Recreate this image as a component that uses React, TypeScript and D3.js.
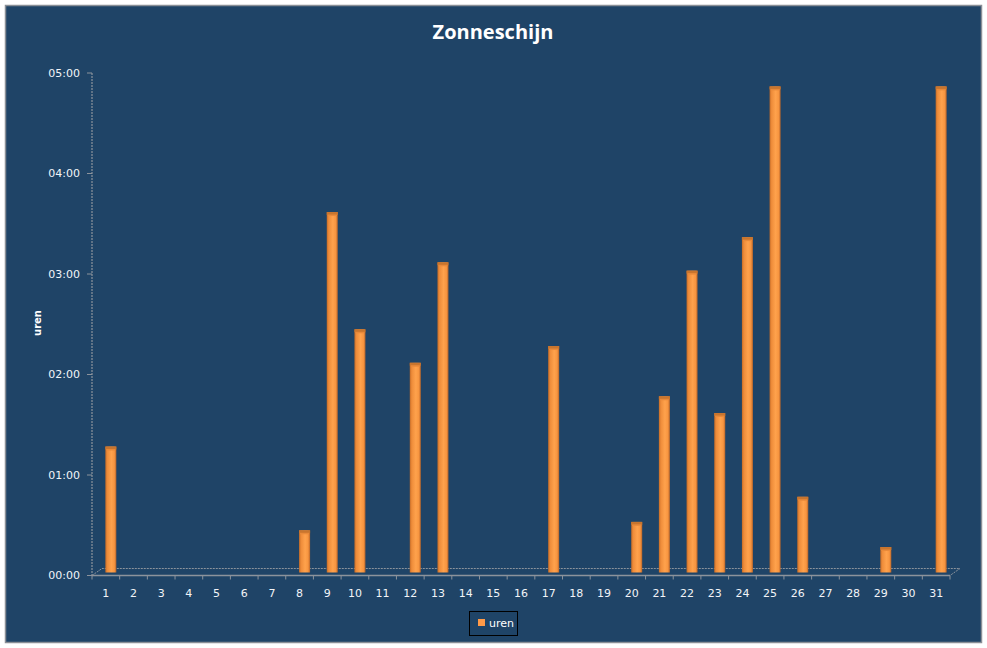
import React from 'react';
import * as d3 from 'd3';

// sunshine per day, in minutes
const days = d3.range(1, 32).map(String);
const minutes = [
  77, 0, 0, 0, 0, 0, 0, 27, 217, 147, 0, 127, 187, 0, 0, 0,
  137, 0, 0, 32, 107, 182, 97, 202, 292, 47, 0, 0, 17, 0, 292,
];
const yTicks = [0, 60, 120, 180, 240, 300];
const title = 'Zonneschijn';
const seriesName = 'uren';

const W = 987;
const H = 648;
const margin = { top: 73, right: 37, bottom: 72, left: 92 };
const depth = { dx: 10, dy: -7 };
const font = '"DejaVu Sans", Verdana, sans-serif';

function fmt(m: number) {
  const h = Math.floor(m / 60);
  const mm = m % 60;
  return `${String(h).padStart(2, '0')}:${String(mm).padStart(2, '0')}`;
}

export default function App() {
  const x = d3.scaleBand<string>()
    .domain(days)
    .range([margin.left, 950]);

  const y = d3.scaleLinear()
    .domain([0, 300])
    .range([575.5, margin.top]);

  const bw = 11;
  const base = y(0);
  const x0 = margin.left;
  const x1 = x.range()[1];

  return (
    <div style={{ position: 'absolute', left: 0, top: 0 }}>
      <svg width={W} height={H} style={{ display: 'block' }}>
        <defs>
          <linearGradient id="barFill" x1="0" x2="1" y1="0" y2="0">
            <stop offset="0%" stopColor="#c46c28" />
            <stop offset="18%" stopColor="#ee8c3a" />
            <stop offset="55%" stopColor="#ffa24c" />
            <stop offset="82%" stopColor="#f79540" />
            <stop offset="100%" stopColor="#b8652a" />
          </linearGradient>
        </defs>
        <rect x={0} y={0} width={W} height={H} fill="#ffffff" />
        <rect x={5.5} y={5.5} width={976} height={637} fill="#1f4467" stroke="#8a8f96" strokeWidth={1.5} />

        <text x={493} y={39} textAnchor="middle" fill="#ffffff" fontFamily='"Open Sans", sans-serif' fontWeight="bold" fontSize={20}>
          {title}
        </text>

        {/* floor */}
        <path
          d={`M${x0},${base} L${x0 + depth.dx},${base + depth.dy} L${x1 + depth.dx},${base + depth.dy} L${x1},${base}`}
          fill="none" stroke="#8c939c" strokeWidth={1} strokeDasharray="2,1"
        />

        {/* y axis */}
        <line x1={x0} x2={x0} y1={y(300)} y2={base} stroke="#8c939c" strokeWidth={1.2} strokeDasharray="2,1" />
        {yTicks.map(t => (
          <g key={t}>
            <line x1={x0 - 5} x2={x0} y1={y(t)} y2={y(t)} stroke="#8c939c" />
            <text x={80} y={y(t)} dy="0.35em" textAnchor="end" fill="#f2f4f8" fontFamily={font} fontSize={11}>
              {fmt(t)}
            </text>
          </g>
        ))}
        <text transform={`translate(41,${323}) rotate(-90)`} textAnchor="middle" fill="#ffffff" fontFamily={font} fontWeight="bold" fontSize={10}>
          {seriesName}
        </text>

        {/* x axis */}
        <line x1={x0} x2={x1} y1={base} y2={base} stroke="#8c939c" strokeWidth={1.5} />
        {days.map(d => (
          <g key={d}>
            <line x1={x(d)! + x.bandwidth()} x2={x(d)! + x.bandwidth()} y1={base} y2={base + 4} stroke="#8c939c" />
            <text x={x(d)! + x.bandwidth() / 2} y={597} textAnchor="middle" fill="#f2f4f8" fontFamily={font} fontSize={11}>
              {d}
            </text>
          </g>
        ))}
        <line x1={x0} x2={x0} y1={base} y2={base + 4} stroke="#8c939c" />

        {/* bars */}
        {days.map((d, i) => {
          const v = minutes[i];
          if (!v) return null;
          const cx = x(d)! + x.bandwidth() / 2 + depth.dx / 2;
          const top = y(v);
          return (
            <g key={d}>
              <rect x={cx - bw / 2} y={top} width={bw} height={base - 3 - top} fill="url(#barFill)" />
              <rect x={cx - bw / 2} y={top} width={bw} height={3} fill="#c8752e" />
              <rect x={cx - bw / 2 + 1} y={top + 2.5} width={bw - 2} height={1.5} fill="#e98a3a" />
            </g>
          );
        })}

        {/* legend */}
        <rect x={469.5} y={611.5} width={48} height={24} fill="none" stroke="#000000" strokeWidth={1} />
        <rect x={478} y={619} width={7} height={7} fill="#ff9a48" />
        <text x={489} y={627} fill="#ffffff" fontFamily={font} fontSize={11}>
          {seriesName}
        </text>
      </svg>
    </div>
  );
}
